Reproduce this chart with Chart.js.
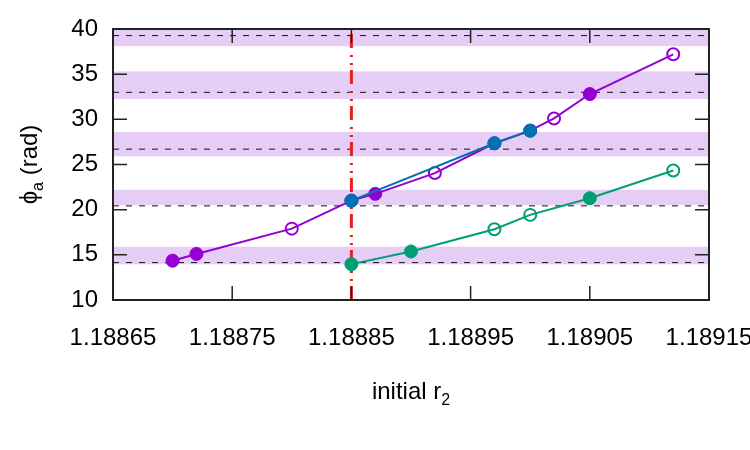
<!DOCTYPE html>
<html>
<head>
<meta charset="utf-8">
<script src="https://cdn.jsdelivr.net/npm/chart.js@4.4.1/dist/chart.umd.min.js"></script>
<style>
  html, body { margin: 0; padding: 0; background: #fff; }
  #wrap { width: 750px; height: 450px; }
</style>
</head>
<body>
<div id="wrap"><canvas id="chart" width="750" height="450"></canvas></div>
<script>
// axis ranges and ticks
const xMin = 1.18865, xMax = 1.18915;
const xTicks = [1.18865, 1.18875, 1.18885, 1.18895, 1.18905, 1.18915];
const yMin = 10, yMax = 40;

// series (filled: 1 = solid circle, 0 = open circle)
const purpleX = [1.18870, 1.18872, 1.18880, 1.18885, 1.18887, 1.18892, 1.18897, 1.18900, 1.18902, 1.18905, 1.18912];
const purpleY = [14.35, 15.1, 17.9, 21.0, 21.75, 24.05, 27.35, 28.75, 30.1, 32.8, 37.2];
const purpleFilled = [1, 1, 0, 1, 1, 0, 1, 1, 0, 1, 0];

const greenX = [1.18885, 1.18890, 1.18897, 1.18900, 1.18905, 1.18912];
const greenY = [13.97, 15.37, 17.84, 19.42, 21.27, 24.33];
const greenFilled = [1, 1, 0, 0, 1, 0];

const blueX = [1.18885, 1.18897, 1.18900];
const blueY = [21.0, 27.35, 28.75];
const blueFilled = [1, 1, 1];

// reference lines and shaded bands
const dashedY = [14.14, 20.42, 26.70, 32.99, 39.27];
const bandLow = [13.95, 20.5, 25.9, 32.25, 38.1];
const bandHigh = [15.9, 22.2, 28.6, 35.3, 40];
const markerX = 1.18885;

const FONT = '"Liberation Sans", Arial, Helvetica, sans-serif';
const PURPLE = '#9400d3', GREEN = '#009e73', BLUE = '#0072b2';

function pts(xs, ys) {
  return xs.map((x, i) => ({ x, y: ys[i] }));
}

function series(xs, ys, filled, color) {
  return {
    data: pts(xs, ys),
    showLine: true,
    borderColor: color,
    borderWidth: 2,
    pointBorderColor: color,
    pointBackgroundColor: filled.map((f) => (f ? color : 'rgba(255,255,255,0)')),
    pointBorderWidth: filled.map((f) => (f ? 1 : 2)),
    pointRadius: filled.map((f) => (f ? 6.5 : 6)),
    pointHoverRadius: 6,
    tension: 0
  };
}

const datasets = [
  Object.assign(series(blueX, blueY, blueFilled, BLUE), { order: 0 }),
  Object.assign(series(greenX, greenY, greenFilled, GREEN), { order: 1 }),
  Object.assign(series(purpleX, purpleY, purpleFilled, PURPLE), { order: 2 }),
  {
    data: [{ x: markerX, y: yMin }, { x: markerX, y: yMax }],
    showLine: true,
    borderColor: 'rgb(235,30,30)',
    borderWidth: 3,
    borderDash: [14, 5, 2, 6, 2, 7],
    pointRadius: 0,
    order: 3
  }
].concat(dashedY.map((v) => ({
  data: [{ x: xMin, y: v }, { x: xMax, y: v }],
  showLine: true,
  borderColor: '#111',
  borderWidth: 1,
  borderDash: [6, 7],
  pointRadius: 0,
  order: 4
})));

const frame = {
  id: 'frame',
  beforeDatasetsDraw(chart) {
    const { ctx, chartArea: a, scales: { y } } = chart;
    ctx.save();
    ctx.fillStyle = 'rgb(230,205,245)';
    bandLow.forEach((lo, i) => {
      const top = y.getPixelForValue(Math.min(bandHigh[i], yMax));
      const bot = y.getPixelForValue(lo);
      ctx.fillRect(a.left, top, a.right - a.left, bot - top);
    });
    ctx.restore();
  },
  afterDatasetsDraw(chart) {
    const { ctx, chartArea: a, scales: { x, y } } = chart;
    const len = 14;
    ctx.save();
    ctx.strokeStyle = '#222';
    ctx.lineWidth = 1.5;
    ctx.beginPath();
    x.ticks.forEach((t) => {
      const px = x.getPixelForValue(t.value);
      ctx.moveTo(px, a.bottom); ctx.lineTo(px, a.bottom - len);
      ctx.moveTo(px, a.top); ctx.lineTo(px, a.top + len);
    });
    y.ticks.forEach((t) => {
      const py = y.getPixelForValue(t.value);
      ctx.moveTo(a.left, py); ctx.lineTo(a.left + len, py);
      ctx.moveTo(a.right, py); ctx.lineTo(a.right - len, py);
    });
    ctx.stroke();
    ctx.lineWidth = 2;
    ctx.strokeRect(a.left, a.top, a.right - a.left, a.bottom - a.top);
    ctx.restore();
  },
  afterDraw(chart) {
    const { ctx, chartArea: a } = chart;
    ctx.save();
    ctx.fillStyle = '#000';
    ctx.textBaseline = 'alphabetic';
    // x title: initial r2
    const main = '24px ' + FONT, sub = '16px ' + FONT;
    ctx.font = main;
    const w1 = ctx.measureText('initial r').width;
    ctx.font = sub;
    const w2 = ctx.measureText('2').width;
    let sx = (a.left + a.right) / 2 - (w1 + w2) / 2;
    ctx.font = main;
    ctx.fillText('initial r', sx, 399);
    ctx.font = sub;
    ctx.fillText('2', sx + w1, 405);
    // y title: phi_a (rad)
    ctx.translate(37, (a.top + a.bottom) / 2);
    ctx.rotate(-Math.PI / 2);
    ctx.font = main;
    const p1 = ctx.measureText('\u03d5').width;
    const p3 = ctx.measureText(' (rad)').width;
    ctx.font = sub;
    const p2 = ctx.measureText('a').width;
    sx = -(p1 + p2 + p3) / 2;
    ctx.font = main;
    ctx.fillText('\u03d5', sx, 0);
    ctx.font = sub;
    ctx.fillText('a', sx + p1, 6);
    ctx.font = main;
    ctx.fillText(' (rad)', sx + p1 + p2, 0);
    ctx.restore();
  }
};

new Chart(document.getElementById('chart'), {
  type: 'scatter',
  data: { datasets },
  options: {
    responsive: false,
    animation: false,
    layout: { padding: { left: 0, top: 29, right: 41, bottom: 0 } },
    plugins: { legend: { display: false }, tooltip: { enabled: false } },
    scales: {
      x: {
        type: 'linear',
        min: xMin,
        max: xMax,
        grid: { display: false, drawTicks: false },
        border: { display: false },
        afterBuildTicks: (scale) => { scale.ticks = xTicks.map((v) => ({ value: v })); },
        afterFit: (scale) => { scale.height = 150; scale.paddingLeft = 0; scale.paddingRight = 0; },
        ticks: {
          autoSkip: false,
          maxRotation: 0,
          padding: 24,
          color: '#000',
          font: { family: FONT, size: 24 },
          callback: (v) => Number(v).toFixed(5)
        }
      },
      y: {
        min: yMin,
        max: yMax,
        grid: { display: false, drawTicks: false },
        border: { display: false },
        afterFit: (scale) => { scale.width = 113; scale.paddingTop = 0; scale.paddingBottom = 0; },
        ticks: {
          stepSize: 5,
          padding: 15,
          color: '#000',
          font: { family: FONT, size: 24 }
        }
      }
    }
  },
  plugins: [frame]
});
</script>
</body>
</html>
